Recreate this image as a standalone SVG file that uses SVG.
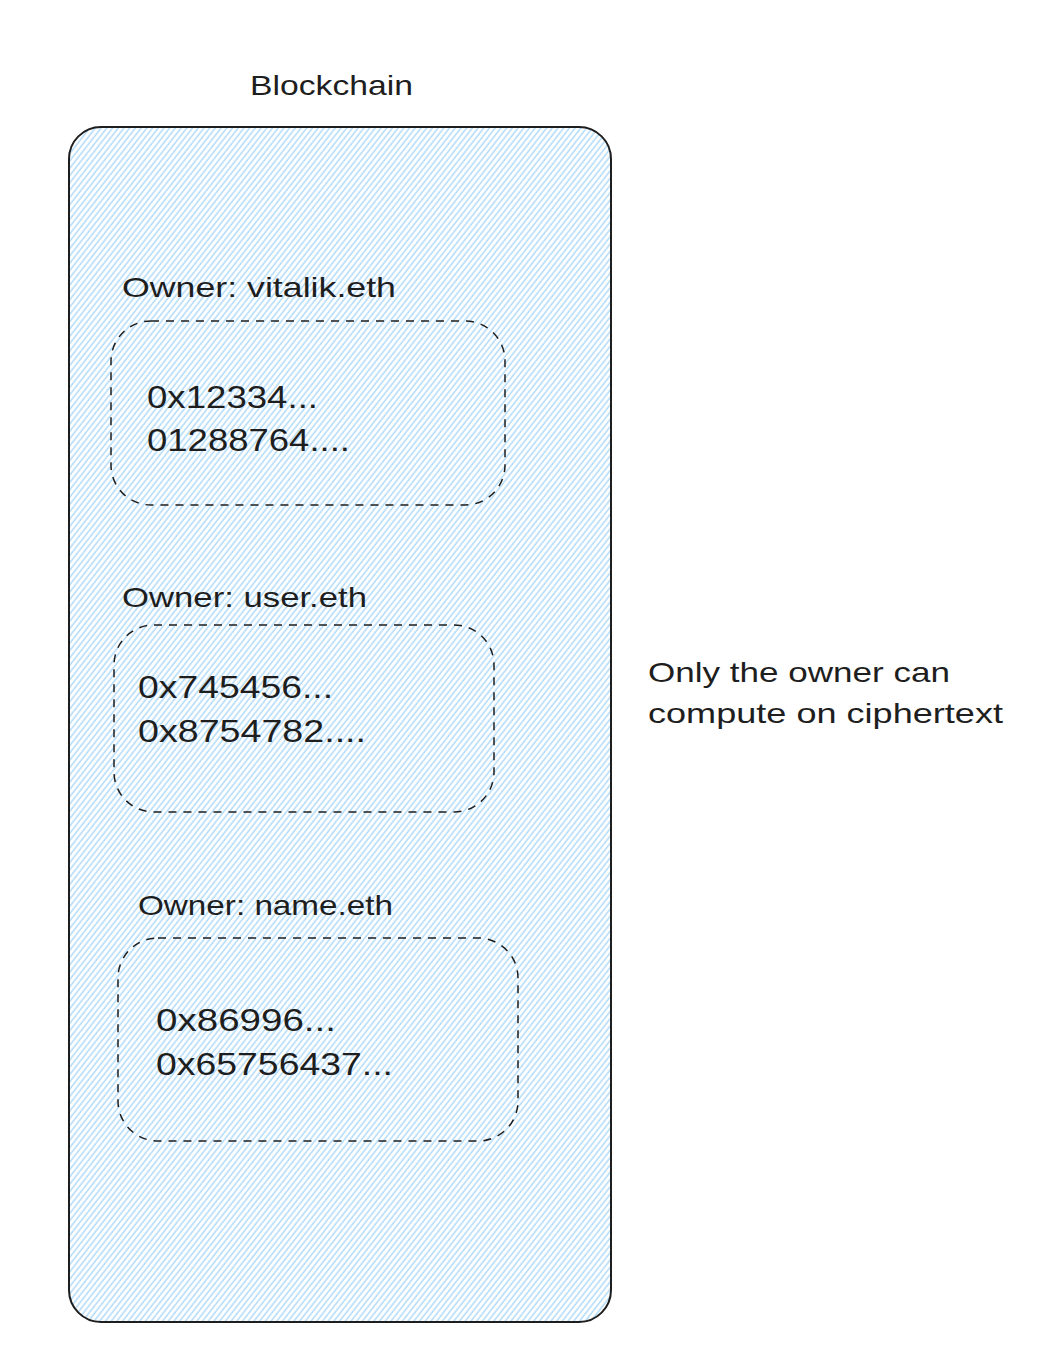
<svg xmlns="http://www.w3.org/2000/svg" width="1050" height="1364" viewBox="0 0 1050 1364">
<style>
.t{font-family:"Liberation Sans","DejaVu Sans",sans-serif;font-size:28px;fill:#1e1e1e}
.c{font-family:"Liberation Sans","DejaVu Sans",sans-serif;font-size:31px;fill:#1e1e1e}
.box{fill:none;stroke:#1e1e1e;stroke-width:1.5;stroke-dasharray:8 7}
</style>
<defs>
<pattern id="hatch" patternUnits="userSpaceOnUse" width="4.5" height="10" patternTransform="rotate(38)">
<line x1="1" y1="0" x2="1" y2="10" stroke="#9fd2f8" stroke-width="1.2"/>
</pattern>
</defs>
<rect width="1050" height="1364" fill="#ffffff"/>
<g id="blockchain">
<text class="t" x="250" y="95" textLength="163" lengthAdjust="spacingAndGlyphs">Blockchain</text>
<rect x="69" y="127" width="542" height="1195" rx="32" ry="32" fill="url(#hatch)" stroke="#1e1e1e" stroke-width="2"/>
</g>
<g id="owner1">
<text class="t" x="122" y="297" textLength="274" lengthAdjust="spacingAndGlyphs">Owner: vitalik.eth</text>
<rect class="box" x="111" y="321" width="394" height="184" rx="40" ry="40"/>
<text class="c" x="147" y="408" textLength="171" lengthAdjust="spacingAndGlyphs">0x12334...</text>
<text class="c" x="147" y="451" textLength="203" lengthAdjust="spacingAndGlyphs">01288764....</text>
</g>
<g id="owner2">
<text class="t" x="122" y="607" textLength="245" lengthAdjust="spacingAndGlyphs">Owner: user.eth</text>
<rect class="box" x="114" y="625" width="380" height="187" rx="40" ry="40"/>
<text class="c" x="138" y="698" textLength="195" lengthAdjust="spacingAndGlyphs">0x745456...</text>
<text class="c" x="138" y="742" textLength="228" lengthAdjust="spacingAndGlyphs">0x8754782....</text>
</g>
<g id="owner3">
<text class="t" x="138" y="915" textLength="255" lengthAdjust="spacingAndGlyphs">Owner: name.eth</text>
<rect class="box" x="118" y="938" width="400" height="203" rx="40" ry="40"/>
<text class="c" x="156" y="1031" textLength="180" lengthAdjust="spacingAndGlyphs">0x86996...</text>
<text class="c" x="156" y="1075" textLength="237" lengthAdjust="spacingAndGlyphs">0x65756437...</text>
</g>
<g id="note">
<text class="t" x="648" y="682" textLength="302" lengthAdjust="spacingAndGlyphs">Only the owner can</text>
<text class="t" x="648" y="723" textLength="355" lengthAdjust="spacingAndGlyphs">compute on ciphertext</text>
</g>
<g id="connectors"></g>
</svg>
